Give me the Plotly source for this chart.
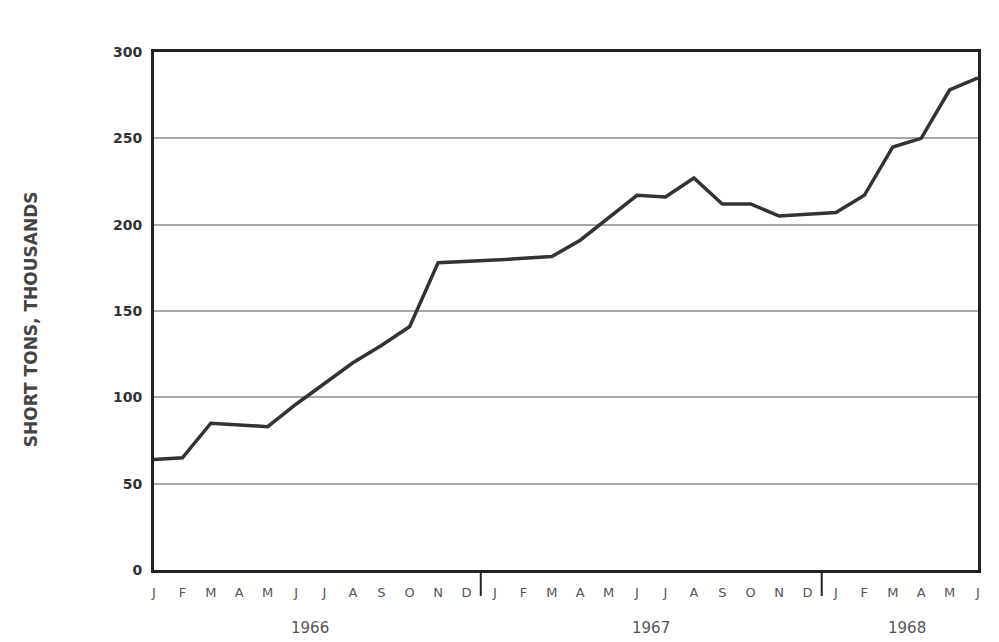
import plotly.graph_objects as go

# ---- data ----
month_labels = ["J", "F", "M", "A", "M", "J", "J", "A", "S", "O", "N", "D",
                "J", "F", "M", "A", "M", "J", "J", "A", "S", "O", "N", "D",
                "J", "F", "M", "A", "M", "J"]
values_1966 = [64, 65, 85, 84, 83, 96, 108, 120, 130, 141, 178, 178.5]
values_1967 = [179.5, 180.5, 181.5, 191, 204, 217, 216, 227, 212, 212, 205, 206]
values_1968 = [207, 217, 245, 250, 278, 285]
year_labels = ["1966", "1967", "1968"]
year_centers = [5.5, 17.5, 26.5]
year_dividers = [11.5, 23.5]
y_ticks = [0, 50, 100, 150, 200, 250, 300]

values = values_1966 + values_1967 + values_1968
x_idx = list(range(len(values)))

fig = go.Figure()
fig.add_trace(go.Scatter(
    x=x_idx, y=values, mode="lines",
    line=dict(color="#333333", width=3.5),
    showlegend=False, hoverinfo="skip",
))

# page body has an 8px default margin, so the figure is sized to fit inside it
fig.update_layout(
    width=983, height=634,
    margin=dict(l=146, r=10, t=44, b=72),
    paper_bgcolor="white", plot_bgcolor="white",
    font=dict(family="DejaVu Sans", color="#444444"),
)

fig.update_xaxes(
    range=[0, len(values) - 1],
    tickmode="array", tickvals=x_idx, ticktext=month_labels,
    tickfont=dict(size=13, color="#555555"),
    ticks="outside", ticklen=8, tickcolor="rgba(0,0,0,0)",
    showgrid=False, zeroline=False,
    showline=True, mirror=True, linecolor="#222222", linewidth=3,
)
fig.update_yaxes(
    range=[0, 300],
    tickmode="array", tickvals=y_ticks,
    tickfont=dict(size=14, color="#333333", weight="bold"),
    ticks="outside", ticklen=6, tickcolor="rgba(0,0,0,0)",
    showgrid=True, gridcolor="#a8a8a8", gridwidth=1.5,
    zeroline=False,
    showline=True, mirror=True, linecolor="#222222", linewidth=3,
)

for xd in year_dividers:
    fig.add_shape(type="line", xref="x", yref="paper",
                  x0=xd, x1=xd, y0=0, y1=-0.05,
                  line=dict(color="#222222", width=2))

for lbl, xc in zip(year_labels, year_centers):
    fig.add_annotation(x=xc, y=-0.112, xref="x", yref="paper",
                       text=lbl, showarrow=False,
                       xanchor="center", yanchor="middle",
                       font=dict(size=15, color="#555555"))

fig.add_annotation(x=-0.15, y=0.485, xref="paper", yref="paper",
                   text="SHORT TONS, THOUSANDS", textangle=-90,
                   showarrow=False, xanchor="center", yanchor="middle",
                   font=dict(size=17, color="#444444", weight="bold"))

fig.write_html("out.html")
